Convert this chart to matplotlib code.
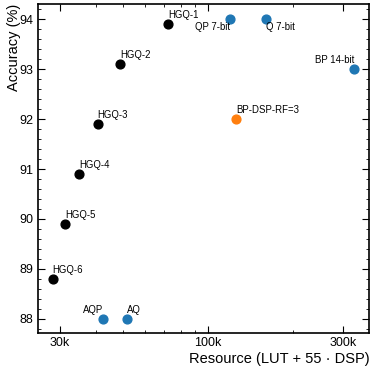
import numpy as np
import matplotlib
matplotlib.use('Agg')
import matplotlib.pyplot as plt
from matplotlib.ticker import FixedLocator, FixedFormatter, LogLocator, NullFormatter, MultipleLocator

plt.rcParams['font.family'] = ['Liberation Sans', 'DejaVu Sans']

# HGQ series (black)
hgq_names = ['HGQ-1', 'HGQ-2', 'HGQ-3', 'HGQ-4', 'HGQ-5', 'HGQ-6']
hgq_res   = [72.2e3, 48.9e3, 40.7e3, 35.0e3, 31.2e3, 28.2e3]
hgq_acc   = [93.9, 93.1, 91.9, 90.9, 89.9, 88.8]

# reference designs (blue)
ref_names = ['QP 7-bit', 'Q 7-bit', 'BP 14-bit', 'AQP', 'AQ']
ref_res   = [120e3, 160e3, 329e3, 42.6e3, 51.7e3]
ref_acc   = [94.0, 94.0, 93.0, 88.0, 88.0]

# DSP variant (orange)
dsp_names = ['BP-DSP-RF=3']
dsp_res   = [125.6e3]
dsp_acc   = [92.0]

# label placement: (ha, va, dx, dy) in points
ref_align = {'QP 7-bit': ('right', 'top', 0, -2),
             'Q 7-bit': ('left', 'top', 0, -2),
             'BP 14-bit': ('right', 'bottom', 0, 3),
             'AQP': ('right', 'bottom', 0, 3),
             'AQ': ('left', 'bottom', 0, 3)}

fig = plt.figure(figsize=(3.74, 3.72), dpi=100)
ax = fig.add_axes([0.101, 0.105, 0.886, 0.884])

ms = 40
ax.scatter(hgq_res, hgq_acc, s=ms, color='black', zorder=3)
ax.scatter(ref_res, ref_acc, s=ms, color='#1f77b4', zorder=3)
ax.scatter(dsp_res, dsp_acc, s=ms, color='#ff7f0e', zorder=3)

fs = 6.9
for n, x, y in zip(hgq_names, hgq_res, hgq_acc):
    ax.annotate(n, (x, y), xytext=(0, 3), textcoords='offset points',
                ha='left', va='bottom', fontsize=fs)
for n, x, y in zip(ref_names, ref_res, ref_acc):
    ha, va, dx, dy = ref_align[n]
    ax.annotate(n, (x, y), xytext=(dx, dy), textcoords='offset points',
                ha=ha, va=va, fontsize=fs)
for n, x, y in zip(dsp_names, dsp_res, dsp_acc):
    ax.annotate(n, (x, y), xytext=(0, 3), textcoords='offset points',
                ha='left', va='bottom', fontsize=fs)

ax.set_xscale('log')
ax.set_xlim(25e3, 371e3)
ax.set_ylim(87.72, 94.3)

ax.xaxis.set_major_locator(FixedLocator([30e3, 100e3, 300e3]))
ax.xaxis.set_major_formatter(FixedFormatter(['30k', '100k', '300k']))
ax.xaxis.set_minor_locator(LogLocator(base=10, subs=np.arange(2, 10)))
ax.xaxis.set_minor_formatter(NullFormatter())
ax.yaxis.set_major_locator(MultipleLocator(1))
ax.yaxis.set_minor_locator(MultipleLocator(0.2))

ax.tick_params(which='both', direction='in', top=True, right=True, labelsize=9, pad=3)
ax.tick_params(which='major', length=5, width=0.8)
ax.tick_params(which='minor', length=2.5, width=0.6)
for s in ax.spines.values():
    s.set_linewidth(1.2)

ax.set_xlabel('Resource (LUT + 55 · DSP)', fontsize=10.5, ha='right', va='baseline')
ax.xaxis.set_label_coords(1.0, -0.0905)
ax.set_ylabel('Accuracy (%)', fontsize=10.5, ha='right', va='baseline')
ax.yaxis.set_label_coords(-0.061, 1.0)

fig.savefig('out.png', dpi=100)
